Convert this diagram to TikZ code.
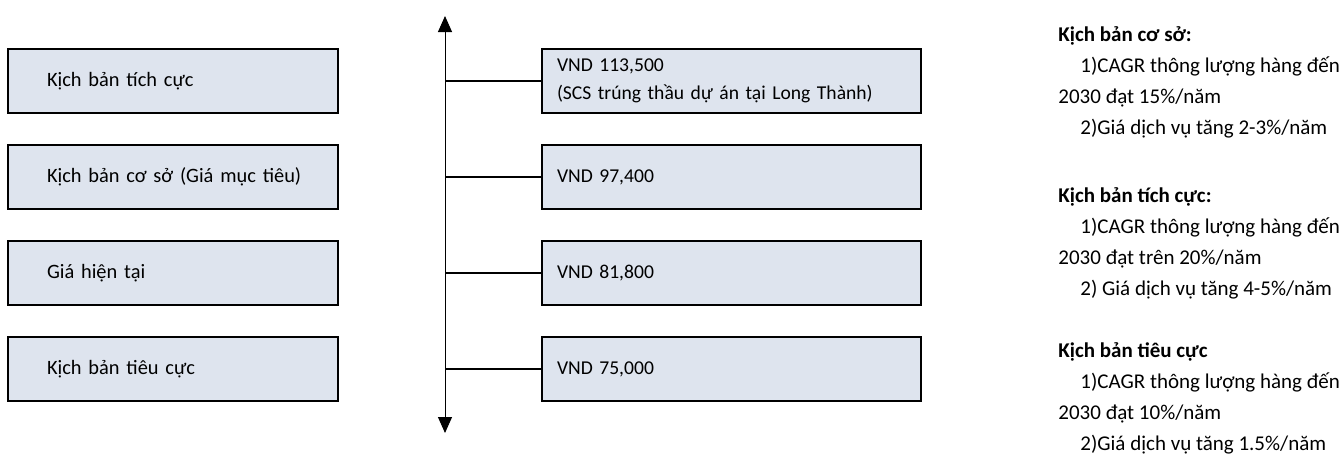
\documentclass[tikz,border=0pt]{standalone}
\usepackage{fontspec}
\setmainfont{Carlito}
\usetikzlibrary{arrows.meta, positioning}
\definecolor{boxfill}{RGB}{222,228,238}
\tikzset{
  box/.style={draw, fill=boxfill, line width=1pt, minimum height=32pt,
    align=left}, % the grey-blue boxes
  scenario/.style={box, text width=145pt, inner xsep=10pt,
    font=\fontsize{10.2}{14}\selectfont,
    execute at begin node={\hspace*{9.5pt}}},
  price/.style={box, text width=174.5pt, inner xsep=7.5pt,
    font=\fontsize{9.8}{14}\selectfont},
  note/.style={anchor=base west, inner sep=0pt,
    font=\fontsize{10.5}{15.6}\selectfont}, % the notes on the right
  >={Triangle[width=7pt, length=8pt]},
}

\begin{document}
\begin{tikzpicture}[x=0.5pt, y=-0.5pt, node distance=48pt, on grid]
    \useasboundingbox (0,0) rectangle (1342,457);

    % scenarios on the left
    \node[scenario] (up) at (173,81) {Kịch bản tích cực};
    \node[scenario, below=of up] (base) {Kịch bản cơ sở (Giá mục tiêu)};
    \node[scenario, below=of base] (now) {Giá hiện tại};
    \node[scenario, below=of now] (down) {Kịch bản tiêu cực};

    % prices in the middle
    \node[price, right=279.25pt of up] (up_p) {VND 113,500\\
      (SCS trúng thầu dự án tại Long Thành)};
    \node[price, right=279.25pt of base] (base_p) {VND 97,400};
    \node[price, right=279.25pt of now] (now_p) {VND 81,800};
    \node[price, right=279.25pt of down] (down_p) {VND 75,000};

    % the price axis
    \coordinate (axis_top) at (445,16);
    \coordinate (axis_bot) at (445,433);
    \draw[<->, line width=0.5pt] (axis_top) -- (axis_bot);
    \foreach \p in {up_p, base_p, now_p, down_p}
      \draw[line width=0.8pt] (\p.west -| axis_top) -- (\p.west);

    % notes
    \node[note] (base_n) at (1058,41) {\begin{tabular}[t]{@{}l@{}}
      \textbf{Kịch bản cơ sở:}\\
      \hspace*{11pt}1)CAGR thông lượng hàng đến\\
      2030 đạt 15\%/năm\\
      \hspace*{11pt}2)Giá dịch vụ tăng 2-3\%/năm
    \end{tabular}};
    \node[note] (up_n) at (1058,202) {\begin{tabular}[t]{@{}l@{}}
      \textbf{Kịch bản tích cực:}\\
      \hspace*{11pt}1)CAGR thông lượng hàng đến\\
      2030 đạt trên 20\%/năm\\
      \hspace*{11pt}2) Giá dịch vụ tăng 4-5\%/năm
    \end{tabular}};
    \node[note] (down_n) at (1058,357) {\begin{tabular}[t]{@{}l@{}}
      \textbf{Kịch bản tiêu cực}\\
      \hspace*{11pt}1)CAGR thông lượng hàng đến\\
      2030 đạt 10\%/năm\\
      \hspace*{11pt}2)Giá dịch vụ tăng 1.5\%/năm
    \end{tabular}};
\end{tikzpicture}
\end{document}
